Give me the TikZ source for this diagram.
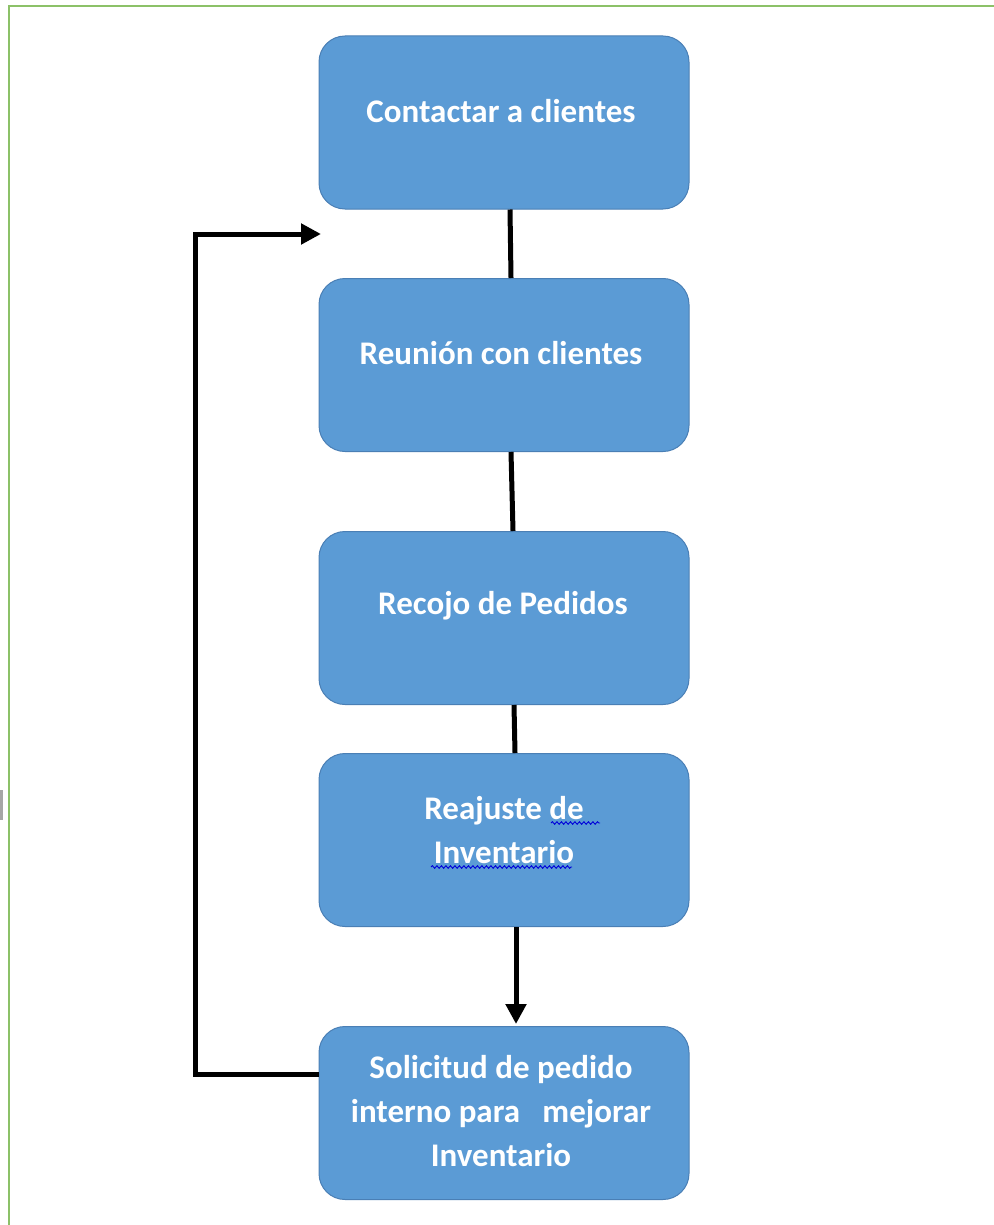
\documentclass[tikz,border=0pt]{standalone}
\usepackage{fontspec}
\setmainfont{Carlito}
\usetikzlibrary{arrows.meta,decorations.pathmorphing}
\definecolor{boxfill}{HTML}{5B9BD5}
\definecolor{boxline}{HTML}{4A7FB5}
\definecolor{frame}{HTML}{8CC168}
\tikzset{
  stepbox/.style={draw=boxline, line width=1pt, fill=boxfill, rounded corners=26pt,
    minimum width=370pt, minimum height=173pt, inner sep=0pt},
  txt/.style={text=white, font=\bfseries\fontsize{33}{44}\selectfont, align=center, inner sep=0pt},
  conn/.style={line width=5pt, black},
  arr/.style={line width=5pt, black, -{Triangle[width=20pt,length=20pt]}},
  wavy/.style={draw=blue!85!black, line width=0.9pt, decorate,
    decoration={snake, amplitude=1.3pt, segment length=4.5pt}}
}
\begin{document}
\begin{tikzpicture}[x=1pt,y=-1pt]
\useasboundingbox (0,0) rectangle (993,1225);
% frame
\draw[frame, line width=2.5pt] (9,1226) -- (9,6) -- (994,6);
\fill[gray!70] (0,790) rectangle (3,820);
% boxes
\node[stepbox] (b1) at (504,122.5) {};
\node[stepbox] (b2) at (504,365) {};
\node[stepbox] (b3) at (504,618) {};
\node[stepbox] (b4) at (504,840) {};
\node[stepbox] (b5) at (504,1113) {};
% texts
\node[txt] (t1) at (501,111) {Contactar a clientes};
\node[txt] (t2) at (501,353) {Reunión con clientes};
\node[txt] (t3) at (503,606) {Recojo de Pedidos};
\node[txt] (t4) at (504,830) {Reajuste de\\Inventario};
\node[txt] (t5) at (501,1111) {Solicitud de pedido\\interno para\ \ \ mejorar\\Inventario};
% spell-check underlines
\draw[wavy] (551,823) -- (600,823);
\draw[wavy] (431,867) -- (572,867);
% connectors
\draw[conn] ([xshift=6pt]b1.south) -- ([xshift=7pt]b2.north);
\draw[conn] ([xshift=7pt]b2.south) -- ([xshift=9pt]b3.north);
\draw[conn] ([xshift=10pt]b3.south) -- ([xshift=11pt]b4.north);
\draw[arr] ([xshift=12pt]b4.south) -- ([xshift=12pt,yshift=2pt]b5.north);
\coordinate (fb) at (321,234);
\draw[arr] ([yshift=39pt]b5.west) -| (195,234) -- (fb);
\end{tikzpicture}
\end{document}
